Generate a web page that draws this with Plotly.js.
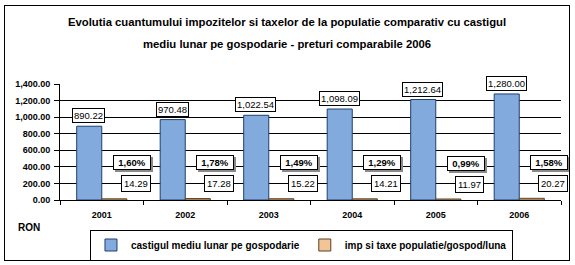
<!DOCTYPE html>
<html>
<head>
<meta charset="utf-8">
<script src="https://cdn.plot.ly/plotly-3.0.1.min.js"></script>
<style>
html,body{margin:0;padding:0;background:#fff;}
#wrap{position:relative;width:575px;height:265px;}
#chart{position:absolute;left:0;top:0;width:575px;height:265px;}
#frame{position:absolute;left:4px;top:5px;width:564px;height:254px;border:1px solid #000;pointer-events:none;}
</style>
</head>
<body>
<div id="wrap"><div id="chart"></div><div id="frame"></div></div>
<script>
var years = ["2001", "2002", "2003", "2004", "2005", "2006"];
var castig = [890.22, 970.48, 1022.54, 1098.09, 1212.64, 1280.00];
var impozite = [14.29, 17.28, 15.22, 14.21, 11.97, 20.27];
var procente = ["1,60%", "1,78%", "1,49%", "1,29%", "0,99%", "1,58%"];
var seriesNames = ["castigul mediu lunar pe gospodarie", "imp si taxe populatie/gospod/luna"];
var titleLines = ["Evolutia cuantumului impozitelor si taxelor de la populatie comparativ cu castigul",
                  "mediu lunar pe gospodarie - preturi comparabile 2006"];
var unitLabel = "RON";

var fmt = function(v){ return v.toLocaleString("en-US",{minimumFractionDigits:2,maximumFractionDigits:2}); };

var traces = [
  {type:"bar", name:seriesNames[0], x:years, y:castig,
   marker:{color:"#82AADD", line:{color:"#1F3F6F", width:1}}, hoverinfo:"none"},
  {type:"bar", name:seriesNames[1], x:years, y:impozite,
   marker:{color:"#F2C596", line:{color:"#5A4020", width:1}}, hoverinfo:"none"}
];

var sans = "Liberation Sans, Arial, sans-serif";
var narrow = "Liberation Sans Narrow, Arial Narrow, Liberation Sans, sans-serif";
var anns = [];
titleLines.forEach(function(t,i){
  anns.push({xref:"paper", yref:"paper", x:0.453, y:[1.534,1.345][i], xanchor:"center", yanchor:"middle",
    showarrow:false, text:t, font:{family:narrow, size:11.3, color:"#000", weight:"bold"}});
});
anns.push({xref:"paper", yref:"paper", x:-0.061, y:-0.233, xanchor:"center", yanchor:"middle",
  showarrow:false, text:unitLabel, font:{family:sans, size:10, color:"#000", weight:"bold"}});

years.forEach(function(yr,i){
  anns.push({x:i, y:castig[i], xref:"x", yref:"y", xshift:-13, yshift:3, yanchor:"bottom", xanchor:"center",
    showarrow:false, text:fmt(castig[i]), bgcolor:"#fff", bordercolor:"#000", borderwidth:1, borderpad:1,
    font:{family:sans, size:9.5, color:"#000"}});
  anns.push({x:i, y:impozite[i], xref:"x", yref:"y", xshift:34, yshift:15, yanchor:"middle", xanchor:"center",
    showarrow:false, text:fmt(impozite[i]), bgcolor:"#fff", bordercolor:"#000", borderwidth:1, borderpad:2,
    font:{family:sans, size:9.5, color:"#000"}});
  // drop shadow box (no text) behind percentage label
  anns.push({x:i, y:impozite[i], xref:"x", yref:"y", xshift:32, yshift:34, yanchor:"middle", xanchor:"center",
    showarrow:false, text:"&nbsp;", width:34, height:11, bgcolor:"#8a8a8a", bordercolor:"#8a8a8a", borderwidth:1, borderpad:1,
    font:{family:narrow, size:9.5, color:"#8a8a8a"}});
  anns.push({x:i, y:impozite[i], xref:"x", yref:"y", xshift:30, yshift:36, yanchor:"middle", xanchor:"center",
    showarrow:false, text:procente[i], width:34, height:11, bgcolor:"#fff", bordercolor:"#000", borderwidth:1, borderpad:1,
    font:{family:narrow, size:9.5, color:"#000", weight:"bold"}});
});

var layout = {
  width:575, height:265,
  margin:{l:60, r:14, t:84, b:65, pad:0, autoexpand:false},
  paper_bgcolor:"#fff", plot_bgcolor:"#fff",
  barmode:"group", bargap:0.4, bargroupgap:0,
  showlegend:true,
  legend:{orientation:"h", x:0.482, y:-0.388, xanchor:"center", yanchor:"middle",
    bordercolor:"#000", borderwidth:1, bgcolor:"#fff",
    font:{family:sans, size:10, color:"#000", weight:"bold"},
    itemwidth:30, traceorder:"normal"},
  xaxis:{type:"category", categoryorder:"array", categoryarray:years, range:[-0.5, years.length-0.5],
    autorange:false, showline:true, linecolor:"#000", linewidth:1,
    ticks:"outside", ticklen:4, tickcolor:"#000", tickson:"boundaries", ticklabelstandoff:6,
    showgrid:false, zeroline:false,
    tickfont:{family:sans, size:9, color:"#000", weight:"bold"}},
  yaxis:{range:[0,1400], autorange:false, dtick:200, tickformat:",.2f", showline:true, linecolor:"#000", linewidth:1,
    ticks:"outside", ticklen:5, tickcolor:"#000", showgrid:true, gridcolor:"#000", gridwidth:1,
    zeroline:false, ticklabelstandoff:2,
    tickfont:{family:sans, size:9, color:"#000", weight:"bold"}},
  annotations:anns
};

Plotly.newPlot("chart", traces, layout, {staticPlot:true, displayModeBar:false});
</script>
</body>
</html>
